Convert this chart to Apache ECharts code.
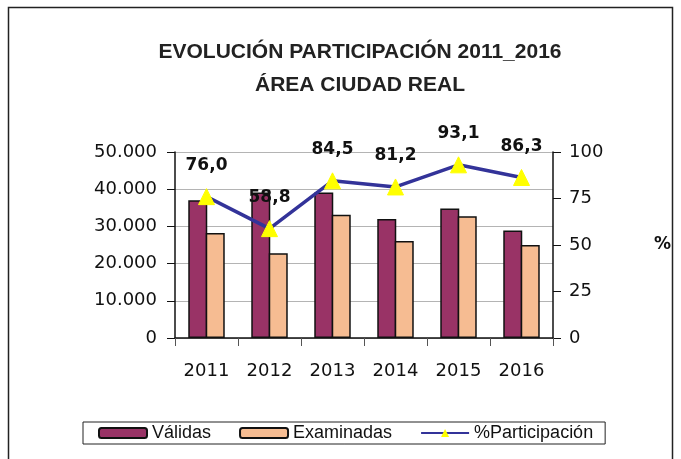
<!DOCTYPE html>
<html>
<head>
<meta charset="utf-8">
<script src="https://cdn.jsdelivr.net/npm/echarts@6/dist/echarts.min.js"></script>
<style>
  html, body { margin: 0; padding: 0; background: #fff; }
  #c1 { width: 681px; height: 459px; }
</style>
</head>
<body>
<div id="c1"></div>
<script>
var years = ['2011', '2012', '2013', '2014', '2015', '2016'];
var validas = [37000, 39100, 39100, 32000, 34800, 28900];
var examinadas = [28200, 22800, 33100, 26100, 32700, 25000];
var participacion = [76.0, 58.8, 84.5, 81.2, 93.1, 86.3];

function makeChart(id, option){
  var myChart = echarts.init(document.getElementById(id));
  myChart.setOption(option);
  window.onresize = myChart.resize;
}

function miles(v){
  return String(v).replace(/\B(?=(\d{3})+(?!\d))/g, '.');
}

var option = {
  animation: false,
  backgroundColor: '#fff',
  graphic: [{
    type: 'rect',
    shape: {x: 8.5, y: 7.5, width: 664, height: 470},
    style: {fill: 'none', stroke: '#222', lineWidth: 1.5}
  }],
  title: {
    text: 'EVOLUCIÓN PARTICIPACIÓN 2011_2016\nÁREA CIUDAD REAL',
    left: 355,
    textAlign: 'center',
    top: 31,
    textStyle: {
      fontFamily: 'Liberation Sans',
      fontSize: 21,
      fontWeight: 'bold',
      color: '#222',
      lineHeight: 33
    }
  },
  legend: {
    left: 83,
    top: 422,
    padding: [2, 12, 2, 15],
    borderColor: '#222',
    borderWidth: 1,
    itemWidth: 48,
    itemHeight: 10,
    itemGap: 28,
    textStyle: {fontFamily: 'Liberation Sans', fontSize: 18, color: '#111'},
    data: ['Válidas', 'Examinadas', '%Participación']
  },
  grid: {left: 175, right: 128, top: 152, bottom: 121},
  xAxis: [{
    type: 'category',
    data: years,
    axisLine: {lineStyle: {color: '#111', width: 1.5}},
    axisTick: {show: true, length: 8, lineStyle: {color: '#555'}},
    axisLabel: {margin: 24, fontFamily: 'DejaVu Sans', fontSize: 18, color: '#111'}
  }],
  yAxis: [
    {
      type: 'value',
      min: 0,
      max: 50000,
      interval: 10000,
      axisLine: {show: true, lineStyle: {color: '#111', width: 1.5}},
      axisTick: {show: true, length: 8, lineStyle: {color: '#111'}},
      axisLabel: {margin: 18, fontFamily: 'DejaVu Sans', fontSize: 18, color: '#111', formatter: miles},
      splitLine: {lineStyle: {color: '#b4b4b4', width: 1}}
    },
    {
      type: 'value',
      min: 0,
      max: 100,
      interval: 25,
      name: '%',
      nameLocation: 'middle',
      nameRotate: 0,
      nameGap: 101,
      nameTextStyle: {fontFamily: 'DejaVu Sans', fontSize: 17, fontWeight: 'bold', color: '#111', padding: [14, 0, 0, 0]},
      axisLine: {show: true, lineStyle: {color: '#111', width: 1.5}},
      axisTick: {show: true, length: 8, lineStyle: {color: '#111'}},
      axisLabel: {margin: 16, fontFamily: 'DejaVu Sans', fontSize: 18, color: '#111'},
      splitLine: {show: false}
    }
  ],
  series: [
    {
      name: 'Válidas',
      type: 'bar',
      barWidth: 19,
      barGap: '-8%',
      itemStyle: {color: '#993366', borderColor: '#111', borderWidth: 1.5},
      data: validas
    },
    {
      name: 'Examinadas',
      type: 'bar',
      barWidth: 19,
      barGap: '-8%',
      itemStyle: {color: '#f6bc92', borderColor: '#111', borderWidth: 1.5},
      data: examinadas
    },
    {
      name: '%Participación',
      type: 'line',
      yAxisIndex: 1,
      symbol: 'triangle',
      symbolSize: 16,
      lineStyle: {color: '#333399', width: 3.5},
      itemStyle: {color: '#ffff00', borderColor: '#ffff00'},
      label: {
        show: true,
        position: 'top',
        distance: 14,
        fontFamily: 'DejaVu Sans',
        fontSize: 17,
        fontWeight: 'bold',
        color: '#111',
        formatter: function(p){ return p.value.toFixed(1).replace('.', ','); }
      },
      z: 5,
      data: participacion
    }
  ]
};

makeChart('c1', option);
</script>
</body>
</html>
